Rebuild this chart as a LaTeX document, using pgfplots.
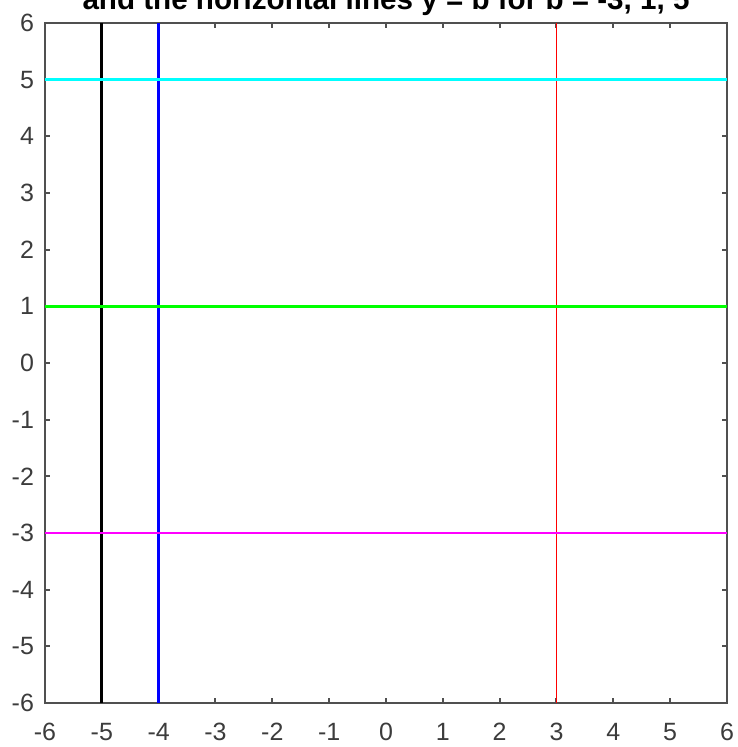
\documentclass[border=0pt]{standalone}
\usepackage{fontspec}
\setmainfont{Liberation Sans}
\usepackage{pgfplots}
\pgfplotsset{compat=1.18}
\definecolor{axgray}{RGB}{80,80,80}
\definecolor{txtgray}{RGB}{60,60,60}
\definecolor{pcyan}{RGB}{0,255,255}
\definecolor{pgreen}{RGB}{0,255,0}
\definecolor{pmagenta}{RGB}{255,0,255}
\definecolor{pblue}{RGB}{0,0,255}
\definecolor{pred}{RGB}{255,0,0}
\begin{document}
\begin{tikzpicture}
\begin{axis}[
    scale only axis,
    width=341pt, height=340pt,
    xmin=-6, xmax=6, ymin=-6, ymax=6,
    xtick={-6,...,6}, ytick={-6,...,6},
    axis line style={axgray, line width=1pt},
    tick style={axgray, line width=1pt},
    major tick length=2.5pt,
    tick align=inside,
    ticklabel style={font=\fontsize{12.5}{14}\selectfont, text=txtgray},
    xticklabel style={yshift=-6.5pt},
    yticklabel style={xshift=-2pt},
    /pgf/number format/assume math mode=true,
    clip=false,
]
\addplot[black, line width=1.5pt] coordinates {(-5,-6) (-5,6)};
\addplot[pblue, line width=1.4pt] coordinates {(-4,-6) (-4,6)};
\addplot[pred, line width=0.9pt] coordinates {(3,-6) (3,6)};
\addplot[pcyan, line width=1.4pt] coordinates {(-6,5) (6,5)};
\addplot[pgreen, line width=1.4pt] coordinates {(-6,1) (6,1)};
\addplot[pmagenta, line width=1.4pt] coordinates {(-6,-3) (6,-3)};
\coordinate (sw) at (rel axis cs:0,0);
\coordinate (ne) at (rel axis cs:1,1);
\coordinate (nt) at (rel axis cs:0.5,1);
\end{axis}
\node[anchor=base, font=\bfseries\fontsize{14.8}{16}\selectfont, inner sep=0pt] at ([yshift=6.5pt]nt) {and the horizontal lines y = b for b = -3, 1, 5};
\pgfresetboundingbox
\useasboundingbox ([shift={(-22.5pt,-22pt)}]sw) rectangle ([shift={(5.5pt,11.5pt)}]ne);
\end{tikzpicture}
\end{document}
